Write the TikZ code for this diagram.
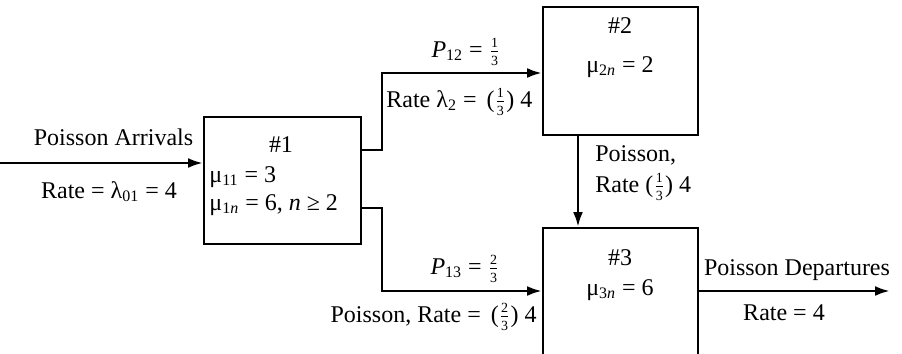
\documentclass[tikz,border=0pt]{standalone}
\usepackage{fontspec}
\setmainfont{Liberation Serif}
\usetikzlibrary{arrows.meta}
\newcommand\sbx[1]{\textsubscript{#1}}
\newcommand\fr[2]{$\frac{\mbox{\fontsize{7}{7}\selectfont #1}}{\mbox{\fontsize{7}{7}\selectfont #2}}$}
\begin{document}
\begin{tikzpicture}[x=0.5pt,y=-0.5pt,
  font=\fontsize{12}{14}\selectfont,
  station/.style={draw,line width=1pt,inner sep=0pt},
  arr/.style={line width=1.4pt,-{Latex[length=7.5pt,width=5pt]}},
  lbl/.style={inner sep=0pt,anchor=base},
  lbll/.style={inner sep=0pt,anchor=base west},
  lblr/.style={inner sep=0pt,anchor=base east}]
\useasboundingbox (0,0) rectangle (902,354);
% stations
\node[station,minimum width=78.5pt,minimum height=63.5pt] (b1) at (282.5,180.5) {};
\node[station,minimum width=77.5pt,minimum height=64pt] (b2) at (620.5,71) {};
\node[station,minimum width=77.5pt,minimum height=66pt] (b3) at (620.5,294) {};
% station texts
\node[lbl] (n1) at (281,152) {\#1};
\node[lbll] (m11) at (209,182) {μ\sbx{11} = 3};
\node[lbll] (m1n) at (209,210) {μ\sbx{1\textit{n}} = 6, \textit{n} ≥ 2};
\node[lbl] (n2) at (620,33) {\#2};
\node[lbl] (m2n) at (620,72) {μ\sbx{2\textit{n}} = 2};
\node[lbl] (n3) at (620,265) {\#3};
\node[lbl] (m3n) at (620,295) {μ\sbx{3\textit{n}} = 6};
% coordinates
\coordinate (inS) at (0,163);
\coordinate (t1) at (361,150);
\coordinate (j1) at (382,73);
\coordinate (t2) at (361,208);
\coordinate (j2) at (382,291);
\coordinate (v) at (578,0);
\coordinate (o) at (890,291);
% connectors
\draw[arr] (inS) -- (inS -| b1.west);
\draw[arr] (t1) -| (j1) -- (j1 -| b2.west);
\draw[arr] (t2) -| (j2) -- (j2 -| b3.west);
\draw[arr] (v |- b2.south) -- (v |- b3.north);
\draw[arr] (o -| b3.east) -- (o);
% labels
\node[lbl] (la1) at (113.5,145) {Poisson Arrivals};
\node[lbl] (la2) at (109,198) {Rate = λ\sbx{01} = 4};
\node[lbl] (lp12) at (466,57) {\textit{P}\sbx{12} = \fr{1}{3}};
\node[lbll] (lr2) at (386,107) {Rate λ\sbx{2} = \,(\fr{1}{3}) 4};
\node[lbll] (lp1) at (595,161) {Poisson,};
\node[lbll] (lp2) at (595,192) {Rate (\fr{1}{3}) 4};
\node[lbl] (lp13) at (465,274) {\textit{P}\sbx{13} = \fr{2}{3}};
\node[lblr] (lr3) at (537,322) {Poisson, Rate = \,(\fr{2}{3}) 4};
\node[lbl] (ld1) at (797,275) {Poisson Departures};
\node[lbl] (ld2) at (784,320) {Rate = 4};
\end{tikzpicture}
\end{document}
